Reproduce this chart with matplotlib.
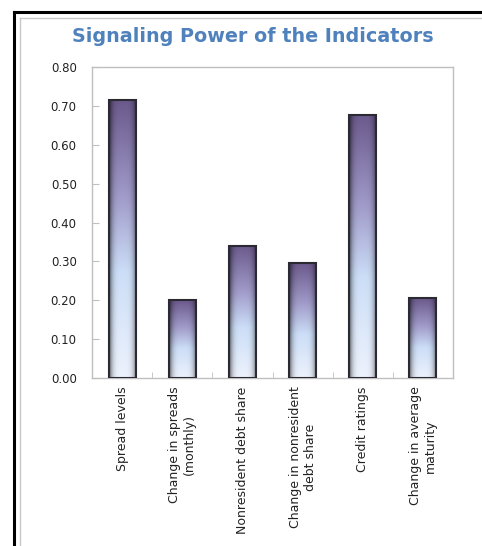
import numpy as np
import matplotlib
matplotlib.use("Agg")
import matplotlib.pyplot as plt
from matplotlib.lines import Line2D

labels = ["Spread levels",
          "Change in spreads\n(monthly)",
          "Nonresident debt share",
          "Change in nonresident\ndebt share",
          "Credit ratings",
          "Change in average\nmaturity"]
values = [0.715, 0.20, 0.34, 0.295, 0.677, 0.205]
yticks = [0.0, 0.1, 0.2, 0.3, 0.4, 0.5, 0.6, 0.7, 0.8]


def bar_image(nrows=200, ncols=40):
    # vertical colour ramp: purple top -> pale blue -> near white bottom
    stops = np.array([0.0, 0.35, 0.62, 1.0])
    cols = np.array([[0.42, 0.35, 0.55],
                     [0.63, 0.61, 0.79],
                     [0.80, 0.87, 0.97],
                     [0.93, 0.95, 0.99]])
    t = np.linspace(0, 1, nrows)
    vert = np.stack([np.interp(t, stops, cols[:, k]) for k in range(3)], axis=1)
    # horizontal bevel shading, darker towards the edges
    u = np.linspace(-1, 1, ncols)
    shade = 1 - 0.6 * np.abs(u) ** 4
    img = vert[:, None, :] * shade[None, :, None]
    return np.clip(img, 0, 1)


fig = plt.figure(figsize=(4.82, 5.46), dpi=100)
ax = fig.add_axes([92 / 482, 168 / 546, 361 / 482, 311 / 546])

x = np.arange(len(values))
bars = ax.bar(x, values, width=0.45, color="none", edgecolor="#2b2a33",
              linewidth=1.5, zorder=3)
ax.set_xlim(-0.5, len(values) - 0.5)
ax.set_ylim(0, 0.8)
ax.set_autoscale_on(False)

img = bar_image()
for b in bars:
    x0, w, h = b.get_x(), b.get_width(), b.get_height()
    im = ax.imshow(img, extent=(x0, x0 + w, 0, h), aspect="auto",
                   origin="upper", zorder=2, interpolation="bilinear")
    im.set_clip_path(b)

ax.set_yticks(yticks)
ax.set_yticklabels([f"{v:.2f}" for v in yticks])
ax.set_xticks(x)
ax.set_xticklabels(labels, rotation=90, ha="center", va="top",
                   multialignment="center")
ax.set_xticks(x[:-1] + 0.5, minor=True)

ax.tick_params(axis="y", direction="in", length=5, color="#bfbfbf",
               labelsize=8.5, pad=11, labelcolor="#222222")
ax.tick_params(axis="x", which="major", length=0, labelsize=9, pad=6,
               labelcolor="#222222")
ax.tick_params(axis="x", which="minor", direction="in", length=4,
               color="#bfbfbf")
for s in ax.spines.values():
    s.set_color("#bfbfbf")
    s.set_linewidth(1.0)

fig.text(253 / 482, 1 - 37 / 546, "Signaling Power of the Indicators",
         ha="center", va="center", fontsize=13.8, fontweight="bold",
         color="#4f81bd")

# outer frame lines
fig.add_artist(Line2D([14 / 482, 14 / 482], [0, 1 - 12 / 546],
                      color="black", lw=2.2, transform=fig.transFigure))
fig.add_artist(Line2D([14 / 482, 1], [1 - 12 / 546, 1 - 12 / 546],
                      color="black", lw=2.2, transform=fig.transFigure))
fig.add_artist(Line2D([20 / 482, 20 / 482], [0, 1 - 18 / 546],
                      color="#c8c8c8", lw=1.0, transform=fig.transFigure))
fig.add_artist(Line2D([20 / 482, 1], [1 - 18 / 546, 1 - 18 / 546],
                      color="#c8c8c8", lw=1.0, transform=fig.transFigure))

fig.savefig("out.png", dpi=100, facecolor="white")
